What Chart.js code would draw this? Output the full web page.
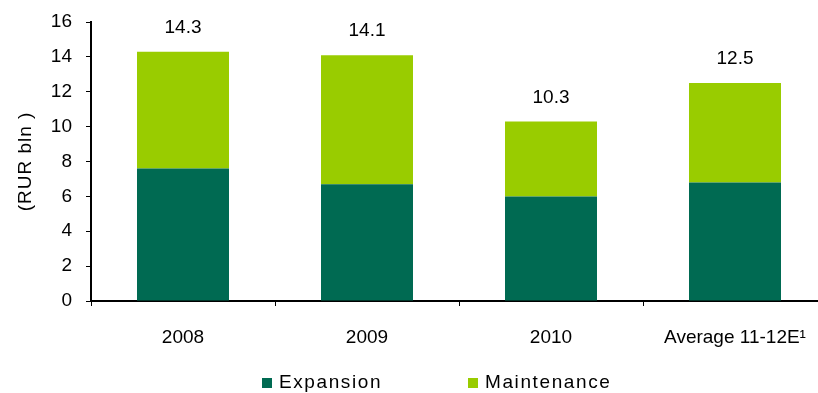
<!DOCTYPE html>
<html lang="en">
<head>
    <meta charset="UTF-8">
    <title>Capex</title>
    <script src="https://cdn.jsdelivr.net/npm/chart.js"></script>
    <style>
        body { margin: 0; overflow: hidden; background: #fff; }
    </style>
</head>
<body>
<div style="width:836px;height:393px;">
    <canvas id="myChart"></canvas>
</div>
<script>
    const categories = ['2008', '2009', '2010', 'Average 11-12E\u00B9'];
    const expansion = [7.6, 6.7, 6.0, 6.8];
    const maintenance = [6.7, 7.4, 4.3, 5.7];
    const totals = [14.3, 14.1, 10.3, 12.5];
    const yMin = 0, yMax = 16, yStep = 2;
    const yTitle = '(RUR bln )';

    const darkGreen = '#006A52';
    const lightGreen = '#99CC00';
    const font = 'Liberation Sans';
    const fontSize = 19;

    // totals above each stacked bar
    const totalLabels = {
        id: 'totalLabels',
        afterDatasetsDraw(chart) {
            const ctx = chart.ctx;
            const y = chart.scales.y;
            const meta = chart.getDatasetMeta(1);
            ctx.save();
            ctx.font = fontSize + 'px "' + font + '"';
            ctx.fillStyle = '#000';
            ctx.textAlign = 'center';
            ctx.textBaseline = 'middle';
            totals.forEach((t, i) => {
                ctx.fillText(t.toFixed(1), meta.data[i].x, y.getPixelForValue(t) - 24);
            });
            ctx.restore();
        }
    };

    // rotated y title, spaced out a little
    const sideTitle = {
        id: 'sideTitle',
        afterDraw(chart) {
            const ctx = chart.ctx;
            const area = chart.chartArea;
            ctx.save();
            ctx.letterSpacing = '1px';
            ctx.font = fontSize + 'px "' + font + '"';
            ctx.fillStyle = '#000';
            ctx.textAlign = 'center';
            ctx.textBaseline = 'middle';
            ctx.translate(26, (area.top + area.bottom) / 2);
            ctx.rotate(-Math.PI / 2);
            ctx.fillText(yTitle, 0, 0);
            ctx.restore();
        }
    };

    // legend row under the axis labels
    const legendRow = {
        id: 'legendRow',
        afterDraw(chart) {
            const ctx = chart.ctx;
            const area = chart.chartArea;
            ctx.save();
            ctx.letterSpacing = '1.6px';
            ctx.font = fontSize + 'px "' + font + '"';
            ctx.textBaseline = 'middle';
            ctx.textAlign = 'left';
            let x = area.left + 171;
            const cy = area.bottom + 82;
            chart.data.datasets.forEach(ds => {
                ctx.fillStyle = ds.backgroundColor;
                ctx.fillRect(x, cy - 5, 10, 10);
                ctx.fillStyle = '#000';
                ctx.fillText(ds.label, x + 17, cy);
                x += 206;
            });
            ctx.restore();
        }
    };

    new Chart(document.getElementById('myChart'), {
        type: 'bar',
        data: {
            labels: categories,
            datasets: [
                { label: 'Expansion', data: expansion, backgroundColor: darkGreen },
                { label: 'Maintenance', data: maintenance, backgroundColor: lightGreen }
            ]
        },
        options: {
            responsive: true,
            maintainAspectRatio: false,
            animation: false,
            layout: { padding: { top: 22, right: 9, bottom: 42, left: 0 } },
            datasets: { bar: { categoryPercentage: 1, barPercentage: 0.5 } },
            plugins: {
                legend: { display: false },
                tooltip: { enabled: false }
            },
            scales: {
                x: {
                    stacked: true,
                    afterFit: scale => { scale.height = 50; },
                    border: { display: true, color: '#000', width: 2 },
                    grid: { drawOnChartArea: false, drawTicks: true, tickLength: 5, color: '#000', offset: true },
                    ticks: { color: '#000', padding: 20, maxRotation: 0, font: { family: font, size: fontSize } }
                },
                y: {
                    stacked: true,
                    min: yMin,
                    max: yMax,
                    afterFit: scale => {
                        scale.width = 91;
                        scale.paddingTop = 0;
                        scale.paddingBottom = 0;
                    },
                    border: { display: true, color: '#000', width: 2 },
                    grid: { drawOnChartArea: false, drawTicks: true, tickLength: 5, color: '#000' },
                    ticks: { stepSize: yStep, color: '#000', padding: 14, font: { family: font, size: fontSize } }
                }
            }
        },
        plugins: [totalLabels, sideTitle, legendRow]
    });
</script>
</body>
</html>
